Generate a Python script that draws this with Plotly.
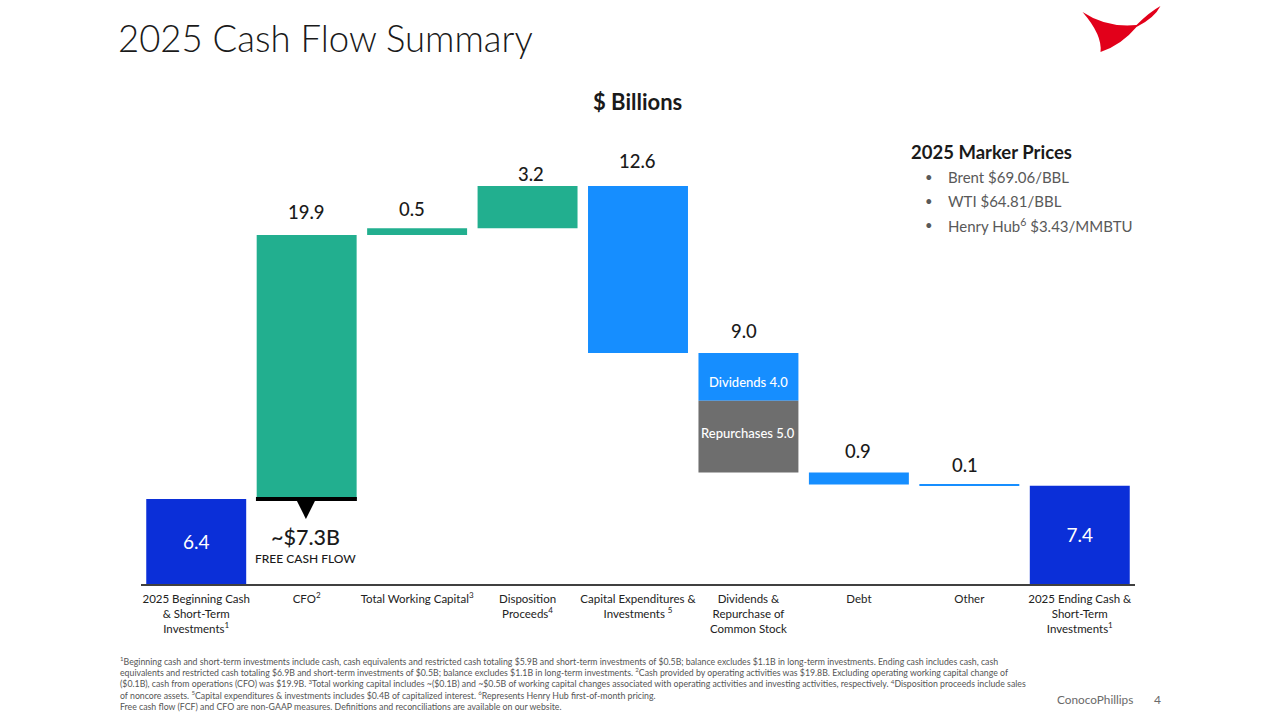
import plotly.graph_objects as go

# waterfall steps, in $ billions
categories = ["2025 Beginning Cash<br>& Short-Term<br>Investments<sup>1</sup>",
              "CFO<sup>2</sup>",
              "Total Working Capital<sup>3</sup>",
              "Disposition<br>Proceeds<sup>4</sup>",
              "Capital Expenditures &<br>Investments <sup>5</sup>",
              "Dividends &<br>Repurchase of<br>Common Stock",
              "Debt",
              "Other",
              "2025 Ending Cash &<br>Short-Term<br>Investments<sup>1</sup>"]
begin_cash = 6.4
cfo = 19.9
working_capital = 0.5
disposition = 3.2
capex = 12.6
# drawn heights in the reference are not quite the labelled 4.0 / 5.0
dividends_drawn = 3.6
repurchases_drawn = 5.4
debt = 0.9
other = 0.1
end_cash = 7.4
labels_above = ["19.9", "0.5", "3.2", "12.6", "9.0", "0.9", "0.1"]
label_x = [1, 2, 3, 4, 5, 6, 7]
# nudges for the labels above the bars, px
label_gap = [23, 19, 12, 25, 22, 22, 19]
label_nudge = [0, -5, 3, -1, -4, -1, -4]

marker_title = "2025 Marker Prices"
marker_rows = ["Brent $69.06/BBL", "WTI $64.81/BBL", "Henry Hub<sup>6</sup> $3.43/MMBTU"]
footnotes = [
    "<sup>1</sup>Beginning cash and short-term investments include cash, cash equivalents and restricted cash totaling $5.9B and short-term investments of $0.5B; balance excludes $1.1B in long-term investments. Ending cash includes cash, cash",
    "equivalents and restricted cash totaling $6.9B and short-term investments of $0.5B; balance excludes $1.1B in long-term investments. <sup>2</sup>Cash provided by operating activities was $19.8B. Excluding operating working capital change of",
    "($0.1B), cash from operations (CFO) was $19.9B. <sup>3</sup>Total working capital includes ~($0.1B) and ~$0.5B of working capital changes associated with operating activities and investing activities, respectively. <sup>4</sup>Disposition proceeds include sales",
    "of noncore assets. <sup>5</sup>Capital expenditures & investments includes $0.4B of capitalized interest. <sup>6</sup>Represents Henry Hub first-of-month pricing.",
    "Free cash flow (FCF) and CFO are non-GAAP measures. Definitions and reconciliations are available on our website.",
]

FONT = "Lato"
DARK_BLUE = "#0b2fd8"
GREEN = "#22af8f"
BLUE = "#168eff"
GRAY = "#6e6e6e"

# plot area in page pixels
LEFT, RIGHT, TOP, BOTTOM = 141, 1135.5, 100, 584
UNIT_PX = 13.27


def px(x):
    return (x - LEFT) / (RIGHT - LEFT)


def py(y):
    return (BOTTOM - y) / (BOTTOM - TOP)


# running total through the steps
after_cfo = begin_cash + cfo
after_wc = after_cfo + working_capital
after_disp = after_wc + disposition
after_capex = after_disp - capex
after_div = after_capex - dividends_drawn
after_rep = after_div - repurchases_drawn
after_debt = after_rep - debt
after_other = after_debt - other

fig = go.Figure()
fig.add_bar(x=[0, 8], y=[begin_cash, end_cash], marker_color=DARK_BLUE,
            text=["6.4", "7.4"], textposition="inside", insidetextanchor="middle",
            insidetextfont=dict(color="white", size=19, family=FONT))
fig.add_bar(x=[1, 2, 3], y=[cfo, working_capital, disposition],
            base=[begin_cash, after_cfo, after_wc], marker_color=GREEN)
fig.add_bar(x=[4, 6, 7], y=[capex, debt, other],
            base=[after_capex, after_debt, after_other], marker_color=BLUE)
fig.add_bar(x=[5], y=[dividends_drawn], base=[after_div], marker_color=BLUE)
fig.add_bar(x=[5], y=[repurchases_drawn], base=[after_rep], marker_color=GRAY)

fig.update_traces(width=0.905, marker_line_width=0, textangle=0, cliponaxis=False)

fig.update_layout(
    width=1280, height=720,
    margin=dict(l=LEFT, r=1280 - RIGHT, t=TOP, b=720 - BOTTOM),
    barmode="overlay", showlegend=False,
    paper_bgcolor="white", plot_bgcolor="white",
    font=dict(family=FONT, color="#1a1a1a"),
    xaxis=dict(range=[-0.5, 8.5], tickmode="array", tickvals=list(range(9)), ticktext=categories,
               showgrid=False, zeroline=False, showline=True, linecolor="#404040", linewidth=2,
               ticks="", tickfont=dict(size=11.5, color="#222222"), tickangle=0, ticklen=0,
               ticklabelstandoff=3),
    yaxis=dict(range=[0, (BOTTOM - TOP) / UNIT_PX], visible=False),
)

# values above the bars
label_tops = [after_cfo, after_wc, after_disp, after_disp, after_capex, after_rep, after_debt]
for x, top, text, gap, nudge in zip(label_x, label_tops, labels_above, label_gap, label_nudge):
    fig.add_annotation(x=x, y=top, text=text, showarrow=False, yanchor="middle", yshift=gap, xshift=nudge,
                       font=dict(size=18.5, color="#1a1a1a", weight=500))

fig.add_annotation(x=5, y=after_capex, text="Dividends 4.0", showarrow=False, yshift=-29,
                   font=dict(size=13, color="white", weight=500))
fig.add_annotation(x=5, y=after_div, text="Repurchases 5.0", showarrow=False, yshift=-32,
                   font=dict(size=13, color="white", weight=500))


def page_text(x, y, text, size, color="#1a1a1a", anchor="center", **font_kw):
    fig.add_annotation(xref="paper", yref="paper", x=px(x), y=py(y), text=text, showarrow=False,
                       xanchor=anchor, yanchor="middle", align=anchor,
                       font=dict(size=size, color=color, **font_kw))


page_text(116, 38, "2025 Cash Flow Summary", 36.5, anchor="left", weight=300)
page_text(638, 101, "$ Billions", 22, weight=700)
page_text(909, 152, marker_title, 18.5, anchor="left", weight=700)
for y, row in zip([177, 201, 225], marker_rows):
    page_text(929, y, "•", 13, color="#595959")
    page_text(946, y, row, 15, color="#595959", anchor="left")

page_text(306, 537, "~$7.3B", 21.5, weight=500)
page_text(306, 558, "FREE CASH FLOW", 12, weight=500)

fig.add_annotation(xref="paper", yref="paper", x=px(118), y=py(714), xanchor="left", yanchor="bottom",
                   text="<br>".join(footnotes), showarrow=False, align="left",
                   font=dict(size=8.75, color="#555555"))
page_text(1136, 699, "ConocoPhillips", 11.8, color="#6a6a6a", anchor="right")
page_text(1158, 699, "4", 12, color="#6a6a6a")

# FCF marker under the CFO bar
fig.add_shape(type="rect", xref="paper", yref="paper", x0=px(256), x1=px(357), y0=py(501), y1=py(497),
              fillcolor="black", line_width=0)
tri = f"M {px(297)},{py(501)} L {px(315)},{py(501)} L {px(306)},{py(519)} Z"
fig.add_shape(type="path", xref="paper", yref="paper", path=tri, fillcolor="black", line_width=0)

# logo
logo = (f"M {px(1083)},{py(12)} Q {px(1107)},{py(28)} {px(1137)},{py(25)} "
        f"Q {px(1150)},{py(12)} {px(1161)},{py(6)} Q {px(1155)},{py(18)} {px(1137)},{py(27)} "
        f"Q {px(1122)},{py(45)} {px(1101)},{py(52)} Q {px(1103)},{py(35)} {px(1083)},{py(12)} Z")
fig.add_shape(type="path", xref="paper", yref="paper", path=logo, fillcolor="#e2001a", line_width=0)

fig.write_html("out.html", config={"displayModeBar": False},
               post_script="document.body.style.margin='0';")
